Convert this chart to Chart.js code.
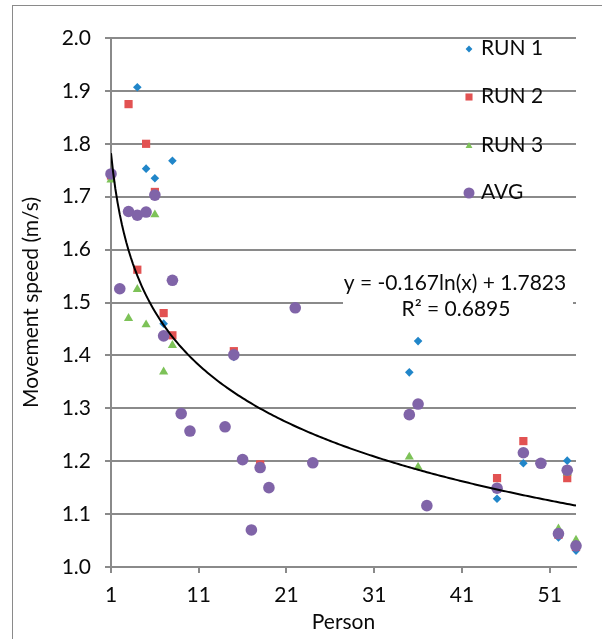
<!DOCTYPE html>
<html>
<head>
<meta charset="utf-8">
<script src="https://cdn.jsdelivr.net/npm/chart.js@4.4.1/dist/chart.umd.min.js"></script>
<style>
  html, body { margin: 0; padding: 0; background: #fff; }
  #wrap { position: relative; width: 602px; height: 639px; overflow: hidden; }
  #frame { position: absolute; left: 12px; top: 5px; width: 700px; height: 700px; border: 1.5px solid #8a8a8a; }
  #chart { position: absolute; left: 0; top: 0; }
</style>
</head>
<body>
<div id="wrap"><div id="frame"></div><canvas id="chart" width="602" height="639"></canvas></div>
<script>
// values
const run1Person = [1, 3, 4, 5, 6, 7, 8, 15, 35, 36, 45, 48, 52, 53, 54];
const run1Speed  = [1.745, 1.671, 1.907, 1.753, 1.735, 1.460, 1.768, 1.397, 1.368, 1.427, 1.129, 1.196, 1.056, 1.201, 1.031];

const run2Person = [1, 3, 4, 5, 6, 7, 8, 15, 18, 35, 36, 45, 48, 52, 53, 54];
const run2Speed  = [1.740, 1.875, 1.562, 1.800, 1.709, 1.480, 1.438, 1.408, 1.194, 1.288, 1.308, 1.168, 1.238, 1.061, 1.168, 1.038];

const run3Person = [1, 3, 4, 5, 6, 7, 8, 35, 36, 45, 48, 52, 53, 54];
const run3Speed  = [1.732, 1.470, 1.525, 1.458, 1.666, 1.369, 1.419, 1.208, 1.189, 1.150, 1.214, 1.072, 1.178, 1.051];

const avgPerson = [1, 2, 3, 4, 5, 6, 7, 8, 9, 10, 14, 15, 16, 17, 18, 19, 22, 24, 35, 36, 37, 45, 48, 50, 52, 53, 54];
const avgSpeed  = [1.743, 1.526, 1.672, 1.665, 1.671, 1.703, 1.437, 1.542, 1.290, 1.257, 1.265, 1.401, 1.203, 1.070, 1.188, 1.150, 1.490, 1.197, 1.288, 1.308, 1.116, 1.149, 1.216, 1.196, 1.063, 1.183, 1.040];

const xTicks = [1, 11, 21, 31, 41, 51];
const yTicks = [1.0, 1.1, 1.2, 1.3, 1.4, 1.5, 1.6, 1.7, 1.8, 1.9, 2.0];

// logarithmic trendline as printed on the chart
const trendSlope = -0.167;
const trendIntercept = 1.7823;
const equationText = 'y = -0.167ln(x) + 1.7823';
const r2Text = 'R\u00b2 = 0.6895';

function pairs(xs, ys) {
  return xs.map((x, i) => ({ x: x, y: ys[i] }));
}

const trendPoints = [];
for (let x = 1; x <= 54; x += 0.25) {
  trendPoints.push({ x: x, y: trendSlope * Math.log(x) + trendIntercept });
}

const gridGray = '#8a8a8a';
const textColor = '#0a0a0a';
Chart.defaults.font.family = 'Lato';
Chart.defaults.font.size = 21;
Chart.defaults.color = textColor;

const trendLabel = {
  id: 'trendLabel',
  beforeDatasetsDraw(chart) {
    const ctx = chart.ctx;
    ctx.save();
    ctx.fillStyle = '#fff';
    ctx.fillRect(343, 268, 230, 54);
    ctx.fillStyle = textColor;
    ctx.font = '21px Lato';
    ctx.textAlign = 'center';
    ctx.textBaseline = 'middle';
    ctx.fillText(equationText, 455, 283);
    ctx.fillText(r2Text, 456, 309);
    ctx.restore();
  }
};

const sideLegend = {
  id: 'sideLegend',
  afterDatasetsDraw(chart) {
    const ctx = chart.ctx;
    const rows = [48, 96, 145, 192];
    const items = chart.data.datasets.filter(d => d.legendRadius);
    items.sort((a, b) => a.legendRank - b.legendRank);
    ctx.save();
    items.forEach((d, i) => {
      ctx.fillStyle = d.backgroundColor;
      Chart.helpers.drawPoint(ctx, { pointStyle: d.pointStyle, radius: d.legendRadius, rotation: 0, borderWidth: 0 }, 469, rows[i] + 1);
      ctx.fillStyle = textColor;
      ctx.font = '21px Lato';
      ctx.textAlign = 'left';
      ctx.textBaseline = 'middle';
      ctx.fillText(d.label, 481, rows[i]);
    });
    ctx.restore();
  }
};

const ctx = document.getElementById('chart').getContext('2d');
new Chart(ctx, {
  type: 'scatter',
  data: {
    datasets: [
      {
        label: 'trend', type: 'line', data: trendPoints, order: 0,
        borderColor: '#000', borderWidth: 2, pointRadius: 0, fill: false, tension: 0
      },
      {
        label: 'AVG', data: pairs(avgPerson, avgSpeed), order: 1, legendRank: 4, legendRadius: 5.5,
        pointStyle: 'circle', pointRadius: 5.8, backgroundColor: '#8064a8', borderWidth: 0, clip: false
      },
      {
        label: 'RUN 3', data: pairs(run3Person, run3Speed), order: 2, legendRank: 3, legendRadius: 4,
        pointStyle: 'triangle', pointRadius: 5.3, backgroundColor: '#7dc258', borderWidth: 0, clip: false
      },
      {
        label: 'RUN 2', data: pairs(run2Person, run2Speed), order: 3, legendRank: 2, legendRadius: 5,
        pointStyle: 'rect', pointRadius: 5.8, backgroundColor: '#e25252', borderWidth: 0, clip: false
      },
      {
        label: 'RUN 1', data: pairs(run1Person, run1Speed), order: 4, legendRank: 1, legendRadius: 3.4,
        pointStyle: 'rectRot', pointRadius: 4.3, backgroundColor: '#2186c9', borderWidth: 0, clip: false
      }
    ]
  },
  options: {
    responsive: false,
    animation: false,
    events: [],
    layout: { padding: { left: 0, top: 38, right: 26, bottom: 0 } },
    plugins: { legend: { display: false }, tooltip: { enabled: false } },
    scales: {
      x: {
        type: 'linear', min: 1, max: 54,
        afterBuildTicks: s => { s.ticks = xTicks.map(v => ({ value: v })); },
        afterFit: s => { s.height = 72; },
        grid: { drawOnChartArea: false, color: gridGray, lineWidth: 2, tickLength: 6 },
        border: { color: gridGray, width: 2 },
        ticks: { padding: 10, color: textColor, maxRotation: 0 },
        title: { display: true, text: 'Person', color: textColor, padding: { top: 0, bottom: 4 } }
      },
      y: {
        type: 'linear', min: 1.0, max: 2.0,
        afterBuildTicks: s => { s.ticks = yTicks.map(v => ({ value: v })); },
        afterFit: s => { s.width = 111; },
        grid: { color: gridGray, lineWidth: 2, tickLength: 6 },
        border: { color: gridGray, width: 2 },
        ticks: { padding: 14, color: textColor, callback: v => v.toFixed(1) },
        title: { display: true, text: 'Movement speed (m/s)', color: textColor, padding: { top: 19, bottom: 0 } }
      }
    }
  },
  plugins: [trendLabel, sideLegend]
});
</script>
</body>
</html>
